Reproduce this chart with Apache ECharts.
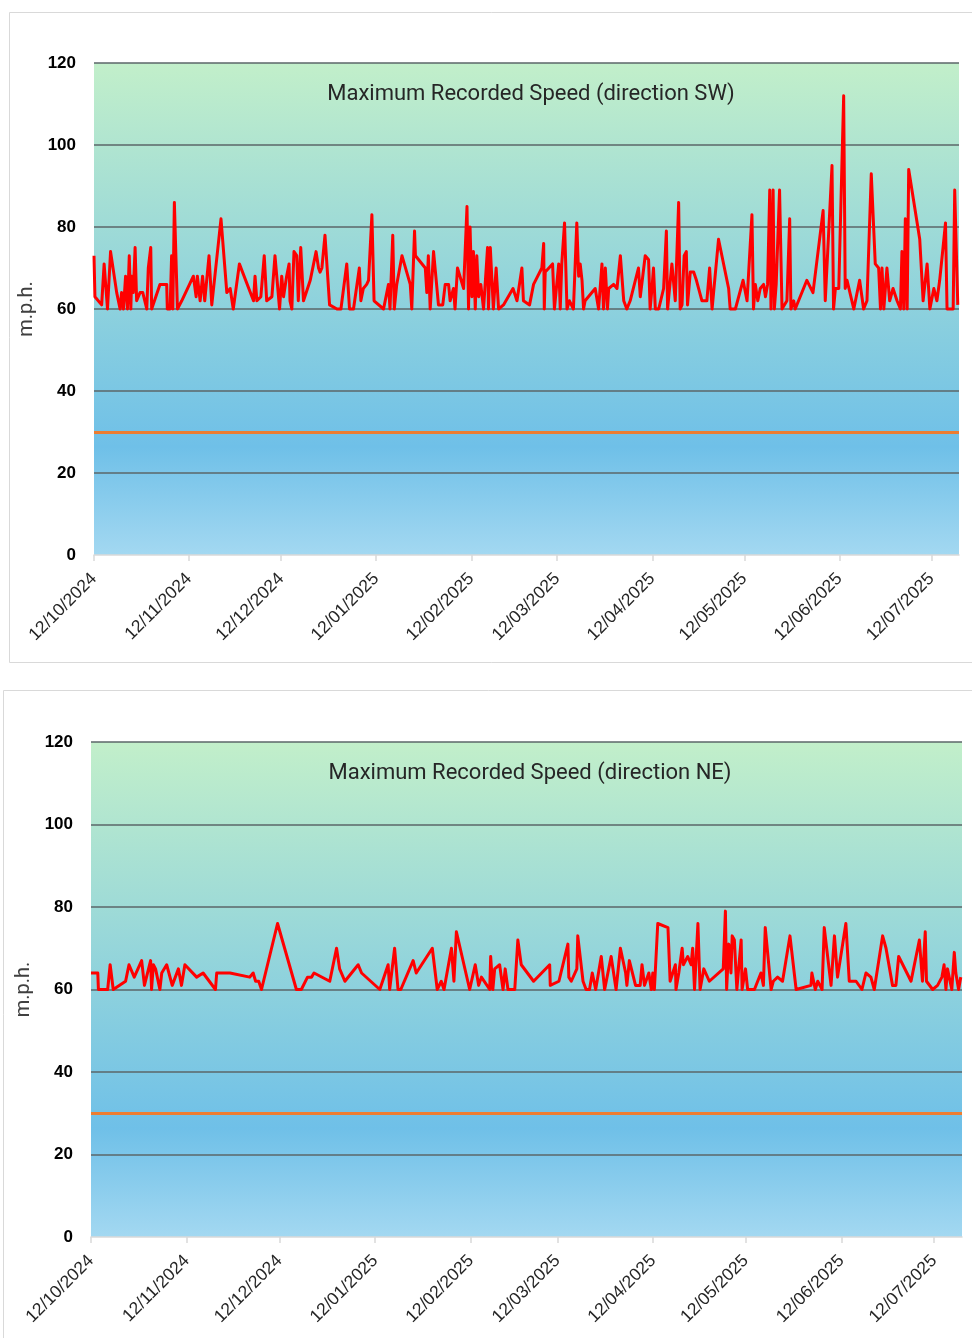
<!DOCTYPE html>
<html>
<head>
<meta charset="utf-8">
<title>Maximum Recorded Speed</title>
<script src="https://cdn.jsdelivr.net/npm/echarts@6/dist/echarts.min.js"></script>
<style>
  html, body { margin: 0; padding: 0; background: #ffffff; }
  #chart { width: 972px; height: 1338px; }
</style>
</head>
<body>
<div id="chart"></div>
<script>
// Day 0 of both series is 12 Oct 2024; positions below are days since then.
const seriesStart = [2024, 10, 12];       // year, month, day
const axisSpanDays = 282;                 // axis runs to 21 Jul 2025
const tickLabels = ['12/10/2024', '12/11/2024', '12/12/2024', '12/01/2025', '12/02/2025',
                    '12/03/2025', '12/04/2025', '12/05/2025', '12/06/2025', '12/07/2025'];
const speedMin = 0, speedMax = 120, speedStep = 20;
const speedLimit = 30;
const titles = ['Maximum Recorded Speed (direction SW)', 'Maximum Recorded Speed (direction NE)'];
const unitName = 'm.p.h.';

// South-west gusts
const swDays = [0, 0.3, 2.5, 3.3, 4.4, 5.4, 7.4, 8.5, 9.0, 9.6, 10.3, 10.9, 11.5, 12.0, 12.3, 12.8, 13.4, 13.9, 15.0, 15.9,
  17.2, 17.7, 18.5, 18.8, 21.5, 23.7, 23.9, 24.8, 25.3, 25.7, 26.2, 27.2, 28.6, 32.4, 33.3, 33.7, 34.6, 35.4, 36.1, 37.5,
  38.4, 41.4, 43.3, 44.4, 45.4, 47.4, 52.0, 52.5, 53.1, 54.4, 55.5, 56.3, 58.0, 59.0, 60.5, 61.2, 61.8, 62.8, 63.6, 63.9,
  64.5, 65.2, 66.1, 66.6, 67.4, 68.3, 70.5, 72.4, 73.2, 73.7, 74.3, 75.3, 76.8, 79.2, 80.5, 82.4, 83.3, 84.6, 86.5, 87.0,
  87.8, 88.9, 89.5, 90.6, 91.3, 94.4, 96.0, 96.5, 97.4, 97.9, 98.7, 100.4, 103.1, 103.6, 104.5, 104.8, 108.0, 108.5, 109.0, 109.6,
  110.7, 112.3, 113.7, 114.5, 115.6, 116.1, 117.2, 117.7, 118.5, 120.5, 121.6, 122.1, 122.6, 123.2, 123.7, 124.3, 124.8, 125.4, 126.1, 127.0,
  128.3, 128.6, 129.2, 130.2, 131.1, 131.9, 133.5, 136.6, 137.9, 139.5, 140.0, 142.0, 143.3, 146.0, 146.6, 146.8, 147.1, 147.6, 149.5, 150.1,
  151.5, 152.0, 152.5, 153.4, 154.2, 155.0, 156.3, 157.4, 158.0, 158.5, 159.1, 159.6, 160.1, 163.4, 164.5, 165.6, 166.1, 166.7, 167.4, 167.8,
  169.4, 170.5, 171.6, 172.7, 173.7, 174.8, 177.5, 178.1, 179.7, 180.8, 181.3, 181.9, 182.4, 183.0, 184.1, 185.7, 186.6, 187.0, 188.4, 189.5,
  190.6, 191.1, 191.7, 192.4, 193.1, 193.5, 194.4, 195.5, 196.4, 198.2, 199.8, 200.7, 201.5, 203.6, 206.9, 207.4, 209.1, 211.6, 212.9, 214.5,
  215.0, 215.6, 216.4, 217.2, 218.3, 218.9, 219.6, 220.3, 220.7, 221.4, 221.8, 222.4, 223.5, 224.3, 225.9, 226.8, 227.2, 228.1, 228.6, 232.4,
  234.4, 237.7, 238.4, 240.6, 241.1, 241.7, 242.8, 244.4, 244.9, 245.5, 247.7, 249.6, 250.9, 252.0, 252.6, 253.4, 254.7, 255.8, 256.4, 256.9,
  257.5, 258.5, 259.4, 260.5, 261.8, 262.9, 263.4, 264.0, 264.5, 265.1, 265.6, 269.2, 270.3, 271.6, 272.5, 273.8, 274.8, 275.7, 276.8, 277.6,
  278.1, 279.2, 280.1, 280.6, 281.6];
const swSpeeds = [73, 63, 61, 71, 60, 74, 64, 60, 64, 60, 68, 60, 73, 60, 68, 64, 75, 62, 64, 64,
  60, 70, 75, 60, 66, 66, 60, 60, 73, 60, 86, 60, 62, 68, 63, 68, 62, 68, 62, 73,
  61, 82, 64, 65, 60, 71, 62, 68, 62, 63, 73, 62, 63, 73, 60, 68, 63, 68, 71, 62,
  60, 74, 73, 62, 75, 62, 67, 74, 70, 69, 70, 78, 61, 60, 60, 71, 60, 60, 70, 62,
  65, 66, 67, 83, 62, 60, 66, 60, 78, 60, 66, 73, 66, 60, 79, 73, 70, 64, 73, 60,
  74, 61, 61, 66, 66, 62, 65, 60, 70, 65, 85, 60, 80, 63, 74, 60, 73, 63, 66, 60,
  75, 60, 75, 60, 70, 60, 61, 65, 62, 70, 62, 61, 66, 70, 76, 60, 69, 69, 71, 60,
  71, 60, 71, 81, 60, 62, 60, 81, 68, 71, 67, 60, 62, 65, 60, 71, 60, 70, 60, 65,
  66, 65, 73, 62, 60, 62, 70, 63, 73, 72, 60, 65, 70, 60, 60, 65, 79, 60, 71, 62,
  86, 60, 61, 73, 74, 61, 69, 69, 67, 62, 62, 70, 60, 77, 65, 60, 60, 67, 62, 83,
  60, 66, 62, 65, 66, 63, 66, 89, 60, 89, 60, 66, 89, 60, 62, 82, 60, 62, 60, 67,
  64, 84, 62, 95, 60, 65, 65, 112, 65, 67, 60, 67, 60, 62, 62, 93, 71, 70, 60, 70,
  60, 70, 62, 65, 62, 60, 74, 60, 82, 60, 94, 77, 62, 71, 60, 65, 62, 67, 75, 81,
  60, 60, 60, 89, 61];

// North-east gusts
const neDays = [0, 2.2, 2.4, 5.4, 6.2, 7.2, 11.2, 12.3, 14.0, 16.4, 17.3, 19.3, 19.6, 20.2, 20.9, 22.3, 22.9, 24.5, 26.3, 28.3,
  29.3, 30.4, 34.2, 36.3, 40.3, 40.7, 45.0, 51.4, 52.5, 53.3, 54.3, 55.2, 60.4, 66.5, 68.1, 70.1, 71.4, 72.2, 77.3, 79.5,
  80.5, 82.2, 86.5, 87.6, 93.5, 96.2, 96.7, 98.3, 99.4, 100.3, 104.3, 105.3, 110.5, 112.1, 113.4, 114.3, 116.7, 117.5, 118.3, 122.6,
  124.4, 125.5, 126.4, 129.1, 129.4, 130.1, 130.7, 132.3, 133.4, 134.1, 135.0, 137.2, 138.2, 139.3, 143.3, 148.5, 148.7, 151.5, 154.4, 154.7,
  155.5, 157.3, 157.6, 159.3, 160.3, 161.4, 162.3, 163.4, 165.2, 166.3, 168.4, 170.0, 171.4, 173.1, 173.5, 174.3, 176.3, 177.8, 178.4, 179.2,
  180.6, 181.4, 181.9, 182.4, 183.5, 186.8, 187.5, 189.2, 189.4, 190.3, 191.4, 191.8, 192.5, 193.2, 194.3, 194.8, 195.4, 196.5, 197.2, 198.4,
  200.2, 204.7, 205.4, 205.8, 206.5, 207.2, 207.6, 208.3, 209.1, 210.5, 210.8, 211.9, 212.6, 214.8, 216.9, 217.7, 218.3, 220.2, 220.9, 222.3,
  223.9, 226.3, 228.3, 233.1, 233.4, 234.5, 235.3, 236.7, 237.4, 239.6, 240.7, 241.7, 244.4, 245.5, 247.7, 249.6, 250.9, 252.5, 253.6, 256.3,
  257.4, 259.5, 260.6, 261.5, 265.5, 268.2, 269.2, 270.1, 270.5, 272.5, 274.1, 275.5, 276.2, 276.8, 277.3, 278.7, 279.5, 280.0, 280.9, 281.6];
const neSpeeds = [64, 64, 60, 60, 66, 60, 62, 66, 63, 67, 61, 67, 60, 66, 65, 60, 64, 66, 61, 65,
  61, 66, 63, 64, 60, 64, 64, 63, 64, 62, 62, 60, 76, 60, 60, 63, 63, 64, 62, 70,
  65, 62, 66, 64, 60, 66, 60, 70, 60, 60, 67, 64, 70, 60, 62, 60, 70, 62, 74, 60,
  66, 61, 63, 60, 68, 60, 65, 66, 60, 65, 60, 60, 72, 66, 62, 66, 61, 62, 71, 63,
  62, 65, 73, 62, 60, 60, 64, 60, 68, 60, 68, 60, 70, 64, 61, 67, 61, 61, 66, 61,
  64, 60, 64, 60, 76, 75, 62, 66, 60, 64, 70, 66, 67, 68, 66, 70, 60, 76, 60, 65,
  62, 65, 79, 60, 71, 64, 73, 72, 60, 72, 60, 65, 60, 60, 64, 61, 75, 60, 62, 63,
  62, 73, 60, 61, 64, 60, 62, 60, 75, 61, 73, 63, 76, 62, 62, 60, 64, 63, 60, 73,
  70, 61, 61, 68, 62, 72, 62, 74, 62, 60, 61, 63, 66, 60, 65, 60, 69, 64, 60, 63];

const DAY_MS = 86400000;
const t0 = Date.UTC(seriesStart[0], seriesStart[1] - 1, seriesStart[2]);
// Monthly ticks sit on the day number of each labelled date
const tickDays = tickLabels.map(s => {
  const [d, m, y] = s.split('/').map(Number);
  return Math.round((Date.UTC(y, m - 1, d) - t0) / DAY_MS);
});
const labelFor = v => {
  const i = tickDays.indexOf(Math.round(v));
  return i >= 0 ? tickLabels[i] : '';
};
const pairs = (days, vals) => days.map((d, i) => [d, vals[i]]);

const plotFill = new echarts.graphic.LinearGradient(0, 0, 0, 1, [
  { offset: 0, color: '#c2efca' },
  { offset: 0.78, color: '#6fc0e8' },
  { offset: 1, color: '#a3d8f1' }
]);

// Panel geometry of each plot area and its frame
const plots = [
  { left: 94, top: 63, width: 865, height: 492, frame: [9.5, 12.5, 1000, 650], titleX: 526, titleY: 78, nameGap: 52 },
  { left: 91, top: 742, width: 871, height: 495, frame: [3.5, 690.5, 1000, 700], titleX: 525, titleY: 757, nameGap: 53 }
];
const gridColor = '#5b6668';

const chart = echarts.init(document.getElementById('chart'), null, { renderer: 'canvas' });

chart.setOption({
  animation: false,
  backgroundColor: '#ffffff',
  graphic: plots.map(p => ({
    type: 'rect', silent: true, z: -20,
    shape: { x: p.frame[0], y: p.frame[1], width: p.frame[2], height: p.frame[3] },
    style: { fill: null, stroke: '#d9d9d9', lineWidth: 1 }
  })),
  title: plots.map((p, i) => ({
    text: titles[i],
    left: p.titleX, top: p.titleY, textAlign: 'center',
    textStyle: { fontFamily: 'Roboto', fontSize: 22, fontWeight: 'normal', color: '#262626' }
  })),
  grid: plots.map(p => ({
    left: p.left, top: p.top, width: p.width, height: p.height,
    show: true, backgroundColor: plotFill, borderWidth: 0,
    containLabel: false, outerBoundsMode: 'none'
  })),
  xAxis: plots.map((p, i) => ({
    type: 'value', gridIndex: i,
    min: 0, max: axisSpanDays,
    axisLine: { show: true, onZero: false, lineStyle: { color: '#d9d9d9', width: 1.5 } },
    axisTick: { show: true, length: 6, customValues: tickDays, lineStyle: { color: '#d9d9d9', width: 1.5 } },
    axisLabel: {
      customValues: tickDays, rotate: 45, margin: 21,
      fontFamily: 'Liberation Sans, Arial, sans-serif', fontSize: 17.5, color: '#262626',
      formatter: v => labelFor(v), hideOverlap: false
    },
    splitLine: { show: false }
  })),
  yAxis: plots.map((p, i) => ({
    type: 'value', gridIndex: i,
    min: speedMin, max: speedMax, interval: speedStep,
    name: unitName, nameLocation: 'middle', nameGap: p.nameGap, nameRotate: 90,
    nameTextStyle: { fontFamily: 'Roboto', fontSize: 20, color: '#404040' },
    axisLine: { show: false }, axisTick: { show: false },
    axisLabel: { margin: 18, fontFamily: 'Liberation Sans, Arial, sans-serif', fontSize: 17, fontWeight: 'bold', color: '#000000' },
    splitLine: { show: true, lineStyle: { width: 1.5, color: ['rgba(0,0,0,0)', gridColor, gridColor, gridColor, gridColor, gridColor, gridColor] } }
  })),
  series: [
    [swDays, swSpeeds],
    [neDays, neSpeeds]
  ].map(([d, v], i) => ({
    type: 'line', xAxisIndex: i, yAxisIndex: i,
    data: pairs(d, v),
    showSymbol: false, symbol: 'none',
    lineStyle: { color: '#ff0000', width: 3, join: 'round' },
    itemStyle: { color: '#ff0000' },
    markLine: {
      silent: true, symbol: ['none', 'none'],
      label: { show: false },
      lineStyle: { color: '#ed7d31', width: 3, type: 'solid' },
      data: [{ yAxis: speedLimit }]
    }
  }))
});
</script>
</body>
</html>
